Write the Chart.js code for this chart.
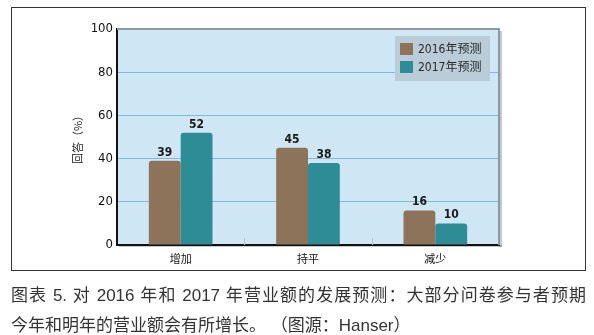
<!DOCTYPE html>
<html>
<head>
<meta charset="utf-8">
<script src="https://cdn.jsdelivr.net/npm/chart.js@4/dist/chart.umd.min.js"></script>
<style>
  html, body { margin: 0; padding: 0; background: #fff; }
  #wrap { position: relative; width: 594px; height: 335px; overflow: hidden; }
  #chart { position: absolute; left: 0; top: 0; }
  #frame { position: absolute; left: 11px; top: 7px; width: 573px; height: 262px; border: 1px solid #333; pointer-events: none; }
  .cap { position: absolute; left: 11px; width: 575px; white-space: nowrap; line-height: 20px;
         font: 17px "Liberation Sans", "Noto Sans CJK SC", sans-serif; color: #333; }
  #cap1 { top: 281px; text-align: justify; text-align-last: justify; }
  #cap2 { top: 311px; }
</style>
</head>
<body>
<div id="wrap">
  <canvas id="chart" width="594" height="272"></canvas>
  <div id="frame"></div>
  <div class="cap" id="cap1">图表 5. 对 2016 年和 2017 年营业额的发展预测：大部分问卷参与者预期</div>
  <div class="cap" id="cap2">今年和明年的营业额会有所增长。 （图源：Hanser）</div>
</div>
<script>
const categories = ['增加', '持平', '减少']
const seriesNames = ['2016年预测', '2017年预测']
const values2016 = [39, 45, 16]
const values2017 = [52, 38, 10]
const yTicks = [0, 20, 40, 60, 80, 100]
const seriesColors = ['#8c735a', '#2e8c96']

const NARROW = '"Liberation Sans Narrow", "DejaVu Sans Condensed", "Noto Sans CJK SC", sans-serif'
const CJK = '"Noto Sans CJK SC", sans-serif'

// light blue panel behind the bars, gray frame on top/right
const panel = {
  id: 'panel',
  beforeDraw(chart) {
    const { ctx, chartArea: a } = chart
    ctx.save()
    // soft shadow below/right of the panel
    ctx.fillStyle = 'rgba(90,100,110,0.35)'
    ctx.fillRect(a.left + 2, a.bottom, a.right - a.left + 1, 2)
    ctx.fillRect(a.right, a.top + 2, 3, a.bottom - a.top)
    ctx.fillStyle = '#cfe7f4'
    ctx.fillRect(a.left, a.top, a.right - a.left, a.bottom - a.top)
    ctx.restore()
  },
  afterDatasetsDraw(chart) {
    const { ctx, chartArea: a, scales } = chart
    ctx.save()
    // small marks between categories
    ctx.strokeStyle = '#b4c2cc'
    ctx.lineWidth = 1
    for (let i = 0; i < categories.length - 1; i++) {
      const x = Math.round((scales.x.getPixelForValue(i) + scales.x.getPixelForValue(i + 1)) / 2) + 0.5
      ctx.beginPath()
      ctx.moveTo(x, a.bottom - 7)
      ctx.lineTo(x, a.bottom)
      ctx.stroke()
    }
    ctx.strokeStyle = '#8a9ba6'
    ctx.lineWidth = 2
    ctx.beginPath()
    ctx.moveTo(a.left, a.top)
    ctx.lineTo(a.right, a.top)
    ctx.lineTo(a.right, a.bottom)
    ctx.stroke()

    // value labels
    ctx.fillStyle = '#1a1a1a'
    ctx.font = 'bold 12px ' + NARROW
    ctx.textAlign = 'center'
    ctx.textBaseline = 'alphabetic'
    chart.data.datasets.forEach((ds, di) => {
      chart.getDatasetMeta(di).data.forEach((bar, i) => {
        ctx.fillText(ds.data[i], bar.x, bar.y - 5)
      })
    })

    // legend box
    const bw = 95, bh = 45
    const bx = a.right - 9 - bw, by = a.top + 7
    ctx.fillStyle = '#b9ccd8'
    ctx.fillRect(bx, by, bw, bh)
    ctx.font = '12px ' + NARROW
    ctx.textAlign = 'left'
    ctx.textBaseline = 'middle'
    chart.data.datasets.forEach((ds, di) => {
      const cy = by + 13 + di * 18
      ctx.fillStyle = ds.backgroundColor
      ctx.fillRect(bx + 5, cy - 6, 13, 12)
      ctx.fillStyle = '#2a2a2a'
      ctx.fillText(ds.label, bx + 23, cy + 1)
    })
    ctx.restore()
  }
}

new Chart(document.getElementById('chart'), {
  type: 'bar',
  data: {
    labels: categories,
    datasets: [
      { label: seriesNames[0], data: values2016, backgroundColor: seriesColors[0] },
      { label: seriesNames[1], data: values2017, backgroundColor: seriesColors[1] }
    ]
  },
  options: {
    responsive: false,
    animation: false,
    layout: { padding: { left: 67, right: 95, top: 29, bottom: 0 } },
    datasets: {
      bar: {
        categoryPercentage: 0.5,
        barPercentage: 1.0,
        borderRadius: { topLeft: 3, topRight: 3 },
        borderSkipped: 'start'
      }
    },
    plugins: { legend: { display: false }, tooltip: { enabled: false } },
    scales: {
      x: {
        afterFit: s => { s.height = 27 },
        grid: { display: true, color: 'rgba(0,0,0,0)', drawTicks: false },
        border: { display: true, color: '#111', width: 2 },
        ticks: { padding: 7, color: '#111', font: { family: CJK, size: 11 } }
      },
      y: {
        min: 0,
        max: 100,
        afterFit: s => { s.width = 50 },
        afterBuildTicks: s => { s.ticks = yTicks.map(v => ({ value: v })) },
        grid: {
          drawTicks: false,
          color: c => (c.tick.value === 0 || c.tick.value === 100) ? 'rgba(0,0,0,0)' : '#7fbbd9',
          lineWidth: 1
        },
        border: { display: true, color: '#111', width: 2 },
        ticks: { padding: 4, color: '#111', font: { family: NARROW, size: 13 } },
        title: {
          display: true,
          text: '回答（%）',
          color: '#222',
          padding: { top: 4, bottom: 0 },
          font: { family: CJK, size: 11 }
        }
      }
    }
  },
  plugins: [panel]
})
</script>
</body>
</html>
